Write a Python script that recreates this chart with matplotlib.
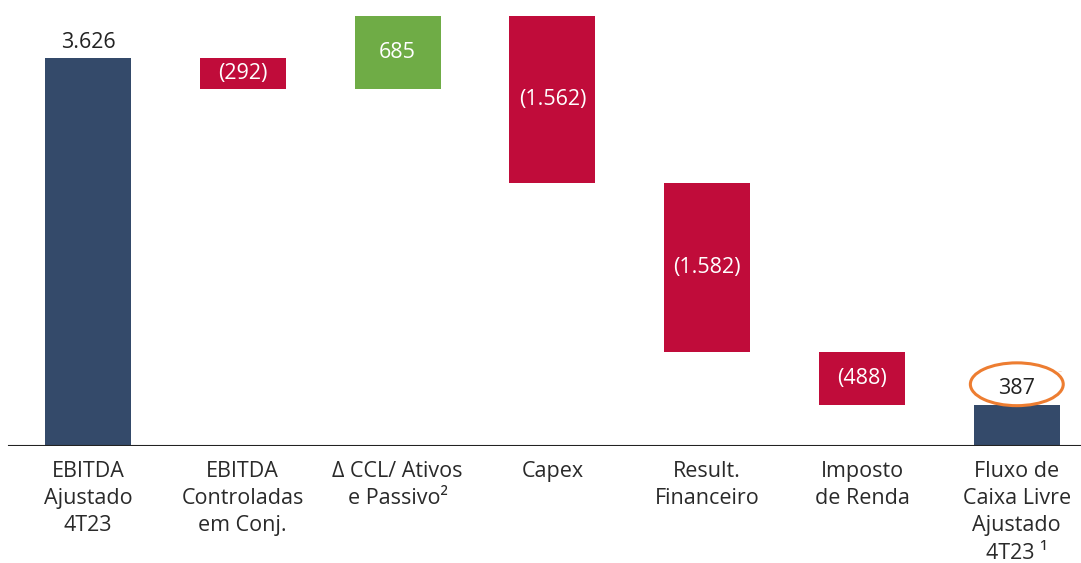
import numpy as np
import matplotlib.pyplot as plt
from matplotlib.patches import Ellipse, Arc

categories = ['EBITDA\nAjustado\n4T23', 'EBITDA\nControladas\nem Conj.', 'Δ CCL/ Ativos\ne Passivo²',
              'Capex', 'Result.\nFinanceiro', 'Imposto\nde Renda', 'Fluxo de\nCaixa Livre\nAjustado\n4T23 ¹']
values = [3626, -292, 685, -1562, -1582, -488, 387]
kinds = ['total', 'delta', 'delta', 'delta', 'delta', 'delta', 'total']
labels = ['3.626', '(292)', '685', '(1.562)', '(1.582)', '(488)', '387']

NAVY  = '#344A6A'
RED   = '#C00C3A'
GREEN = '#6FAC46'
ORANGE = '#ED7D31'

plt.rcParams['font.family'] = ['Open Sans', 'DejaVu Sans']
FS = 15.5

fig = plt.figure(figsize=(10.81, 5.63), dpi=100)
ax = fig.add_axes([0, 117 / 563, 1, 446 / 563])

x = np.arange(len(values))
bottoms, heights, colors = [], [], []
running = 0
for v, k in zip(values, kinds):
    if k == 'total':
        bottoms.append(0)
        heights.append(v)
        colors.append(NAVY)
        running = v
    else:
        start = running
        running += v
        bottoms.append(min(start, running))
        heights.append(abs(v))
        colors.append(GREEN if v > 0 else RED)

ax.bar(x, heights, bottom=bottoms, width=0.555, color=colors, edgecolor='none', zorder=2)

for xi, b, h, k, lab in zip(x, bottoms, heights, kinds, labels):
    if k == 'total':
        ax.text(xi, b + h + 50, lab, ha='center', va='bottom', fontsize=FS, color='#222222')
    else:
        ax.text(xi, b + h / 2, lab, ha='center', va='center', fontsize=FS, color='white')

ax.set_xlim(-88 / 154.8, (1081 - 88) / 154.8)
ax.set_ylim(0, 4168)
ax.axhline(0, xmin=9 / 1081, xmax=1, color='#222222', lw=1.5, zorder=3)

for xi, cat in zip(x, categories):
    ax.annotate(cat, xy=(xi, 0), xycoords='data', xytext=(0, -11), textcoords='offset points',
                ha='center', va='top', fontsize=FS, color='#2a2a2a', linespacing=1.38,
                annotation_clip=False)

# orange highlight around the final value
last = len(values) - 1
cy = values[-1] + 190
ax.add_patch(Ellipse((last, cy), 0.60, 400, fill=False, edgecolor=ORANGE, lw=2.2, zorder=4, clip_on=False))
ax.add_patch(Arc((last + 0.06, cy + 120), 0.44, 340, theta1=10, theta2=85, edgecolor=ORANGE, lw=2.2,
                 zorder=4, clip_on=False))

ax.axis('off')
fig.savefig('out.png', dpi=100)
